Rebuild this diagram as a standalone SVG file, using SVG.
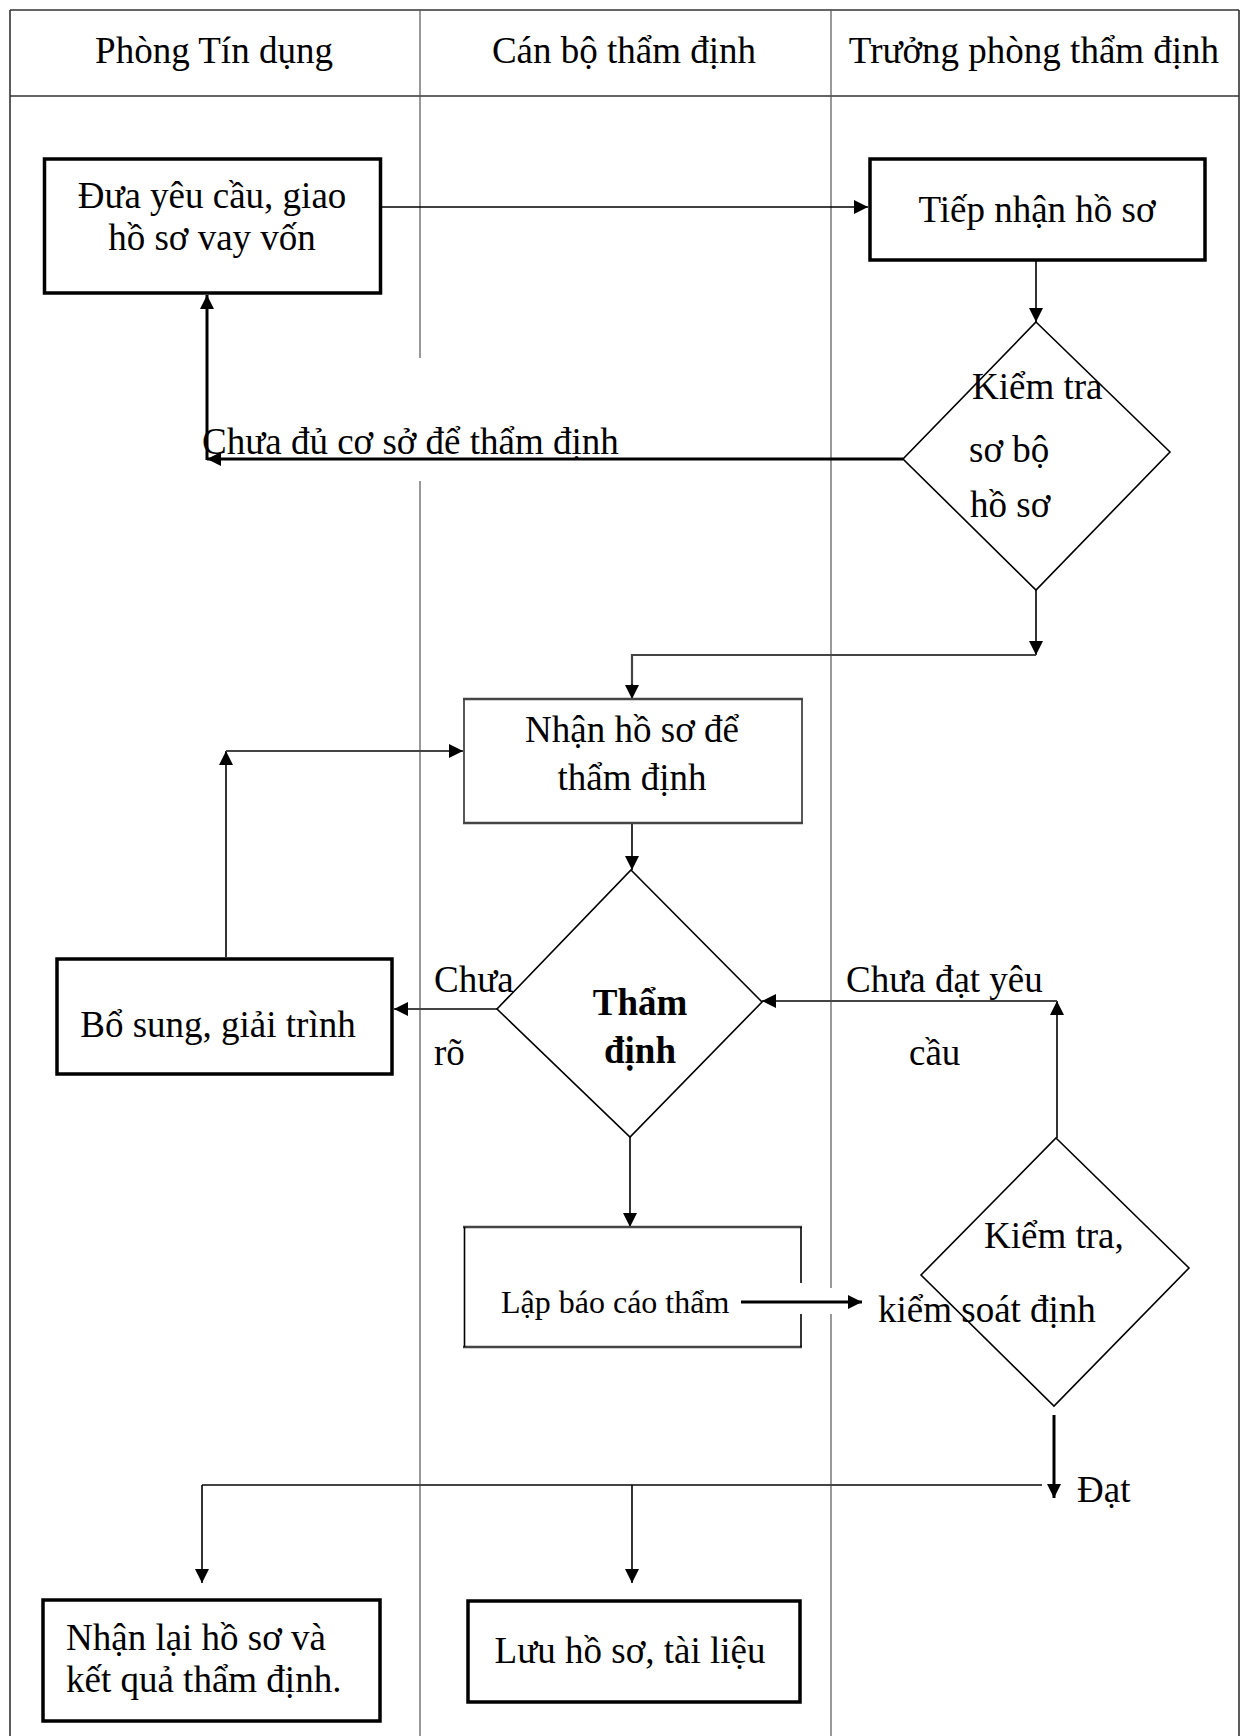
<svg xmlns="http://www.w3.org/2000/svg" width="1242" height="1736" viewBox="0 0 1242 1736">
<defs>
<marker id="ah" markerUnits="userSpaceOnUse" markerWidth="14" markerHeight="14" viewBox="0 0 14 14" refX="14" refY="7" orient="auto">
<path d="M0,0 L14,7 L0,14 z" fill="#000"/>
</marker>
</defs>
<style>
text{font-family:"Liberation Serif","Times New Roman",serif;font-size:37px;fill:#000}
.c{text-anchor:middle}
.sm{font-size:32px}
.b{font-weight:bold}
.grid{stroke:#555;stroke-width:1.2;fill:none}
.frame{stroke:#333;stroke-width:1.6;fill:none}
.thick{fill:#fff;stroke:#000;stroke-width:3.5}
.thin{fill:#fff;stroke:#222;stroke-width:1.5}
.edge{stroke:#444;stroke-width:2.5}
.dia{fill:#fff;stroke:#000;stroke-width:1.6}
.ln{stroke:#000;stroke-width:1.6;fill:none}
.lnb{stroke:#000;stroke-width:3;fill:none}
.lng{stroke:#444;stroke-width:2.2;fill:none}
</style>
<rect width="1242" height="1736" fill="#fff"/>
<g id="table">
<line class="frame" x1="10" y1="10" x2="1239" y2="10"/>
<line class="frame" x1="10" y1="10" x2="10" y2="1736"/>
<line class="frame" x1="1239" y1="10" x2="1239" y2="1736"/>
<line class="frame" x1="10" y1="96" x2="1239" y2="96"/>
<line class="grid" x1="420" y1="10" x2="420" y2="358"/>
<line class="grid" x1="420" y1="481" x2="420" y2="1736"/>
<line class="grid" x1="831" y1="10" x2="831" y2="1288"/>
<line class="grid" x1="831" y1="1314" x2="831" y2="1736"/>
<text class="c" x="214" y="63">Phòng Tín dụng</text>
<text class="c" x="624" y="63">Cán bộ thẩm định</text>
<text class="c" x="1034" y="63">Trưởng phòng thẩm định</text>
</g>
<g id="connectors">
<line class="ln" x1="378" y1="207" x2="868" y2="207" marker-end="url(#ah)"/>
<line class="ln" x1="1036" y1="258" x2="1036" y2="322" marker-end="url(#ah)"/>
<line class="lnb" x1="903" y1="459" x2="207" y2="459" marker-end="url(#ah)"/>
<line class="lnb" x1="207" y1="460" x2="207" y2="295" marker-end="url(#ah)"/>
<line class="ln" x1="1036" y1="590" x2="1036" y2="655" marker-end="url(#ah)"/>
<polyline class="lng" points="1036,655 632,655 632,686"/>
<line class="ln" x1="632" y1="684" x2="632" y2="699" marker-end="url(#ah)"/>
<line class="ln" x1="226" y1="957" x2="226" y2="751" marker-end="url(#ah)"/>
<line class="lng" x1="226" y1="751" x2="463" y2="751" marker-end="url(#ah)"/>
<line class="ln" x1="632" y1="823" x2="632" y2="870" marker-end="url(#ah)"/>
<line class="lng" x1="497" y1="1009" x2="394" y2="1009" marker-end="url(#ah)"/>
<line class="ln" x1="630" y1="1137" x2="630" y2="1227" marker-end="url(#ah)"/>
<line class="lnb" x1="741" y1="1302" x2="862" y2="1302" marker-end="url(#ah)"/>
<line class="ln" x1="1057" y1="1138" x2="1057" y2="1001" marker-end="url(#ah)"/>
<line class="lng" x1="1057" y1="1001" x2="762" y2="1001" marker-end="url(#ah)"/>
<line class="lnb" x1="1054" y1="1415" x2="1054" y2="1498" marker-end="url(#ah)"/>
<line class="lng" x1="202" y1="1485" x2="1042" y2="1485"/>
<line class="ln" x1="202" y1="1485" x2="202" y2="1583" marker-end="url(#ah)"/>
<line class="ln" x1="632" y1="1485" x2="632" y2="1583" marker-end="url(#ah)"/>
</g>
<g id="n-dua">
<rect class="thick" x="44.5" y="159" width="336" height="134"/>
<text class="c" x="212" y="208">Đưa yêu cầu, giao</text>
<text class="c" x="212" y="250">hồ sơ vay vốn</text>
</g>
<g id="n-tiepnhan">
<rect class="thick" x="870" y="159" width="335" height="101"/>
<text class="c" x="1037" y="222">Tiếp nhận hồ sơ</text>
</g>
<g id="n-kiemtra1">
<polygon class="dia" points="1036,322 1170,452 1036,590 903,459"/>
<text x="972" y="399">Kiểm tra</text>
<text x="969" y="462">sơ bộ</text>
<text x="970" y="517">hồ sơ</text>
</g>
<g id="lbl-chuadu">
<text x="202" y="454">Chưa đủ cơ sở để thẩm định</text>
</g>
<g id="n-nhanhoso">
<rect class="thin" x="464" y="699" width="338" height="124"/>
<line class="edge" x1="463" y1="699" x2="803" y2="699"/>
<line class="edge" x1="463" y1="823" x2="803" y2="823"/>
<text class="c" x="632" y="742">Nhận hồ sơ để</text>
<text class="c" x="632" y="790">thẩm định</text>
</g>
<g id="n-bosung">
<rect class="thick" x="57" y="959" width="335" height="115"/>
<text class="c" x="218" y="1037">Bổ sung, giải trình</text>
</g>
<g id="n-thamdinh">
<polygon class="dia" points="631,870 762,1002 630,1137 497,1009"/>
<text class="c b" x="640" y="1015">Thẩm</text>
<text class="c b" x="640" y="1063">định</text>
</g>
<g id="lbl-chuaro">
<text x="434" y="992">Chưa</text>
<text x="434" y="1065">rõ</text>
</g>
<g id="lbl-chuadat">
<text x="846" y="992">Chưa đạt yêu</text>
<text x="909" y="1065">cầu</text>
</g>
<g id="n-lapbaocao">
<line class="edge" x1="463" y1="1227" x2="802" y2="1227"/>
<line class="edge" x1="463" y1="1347" x2="802" y2="1347"/>
<line class="ln" x1="464.5" y1="1227" x2="464.5" y2="1347"/>
<line class="ln" x1="801" y1="1227" x2="801" y2="1283"/>
<line class="ln" x1="801" y1="1314" x2="801" y2="1347"/>
<text class="sm" x="501" y="1313">Lập báo cáo thẩm</text>
</g>
<g id="n-kiemtra2">
<polygon class="dia" points="1056,1138 1189,1268 1054,1406 921,1275"/>
<text x="984" y="1248">Kiểm tra,</text>
<text x="878" y="1322">kiểm soát định</text>
</g>
<g id="lbl-dat">
<text x="1077" y="1502">Đạt</text>
</g>
<g id="n-nhanlai">
<rect class="thick" x="43" y="1600" width="337" height="121"/>
<text x="66" y="1650">Nhận lại hồ sơ và</text>
<text x="66" y="1692">kết quả thẩm định.</text>
</g>
<g id="n-luu">
<rect class="thick" x="468" y="1601" width="332" height="101"/>
<text class="c" x="630" y="1663">Lưu hồ sơ, tài liệu</text>
</g>
</svg>
